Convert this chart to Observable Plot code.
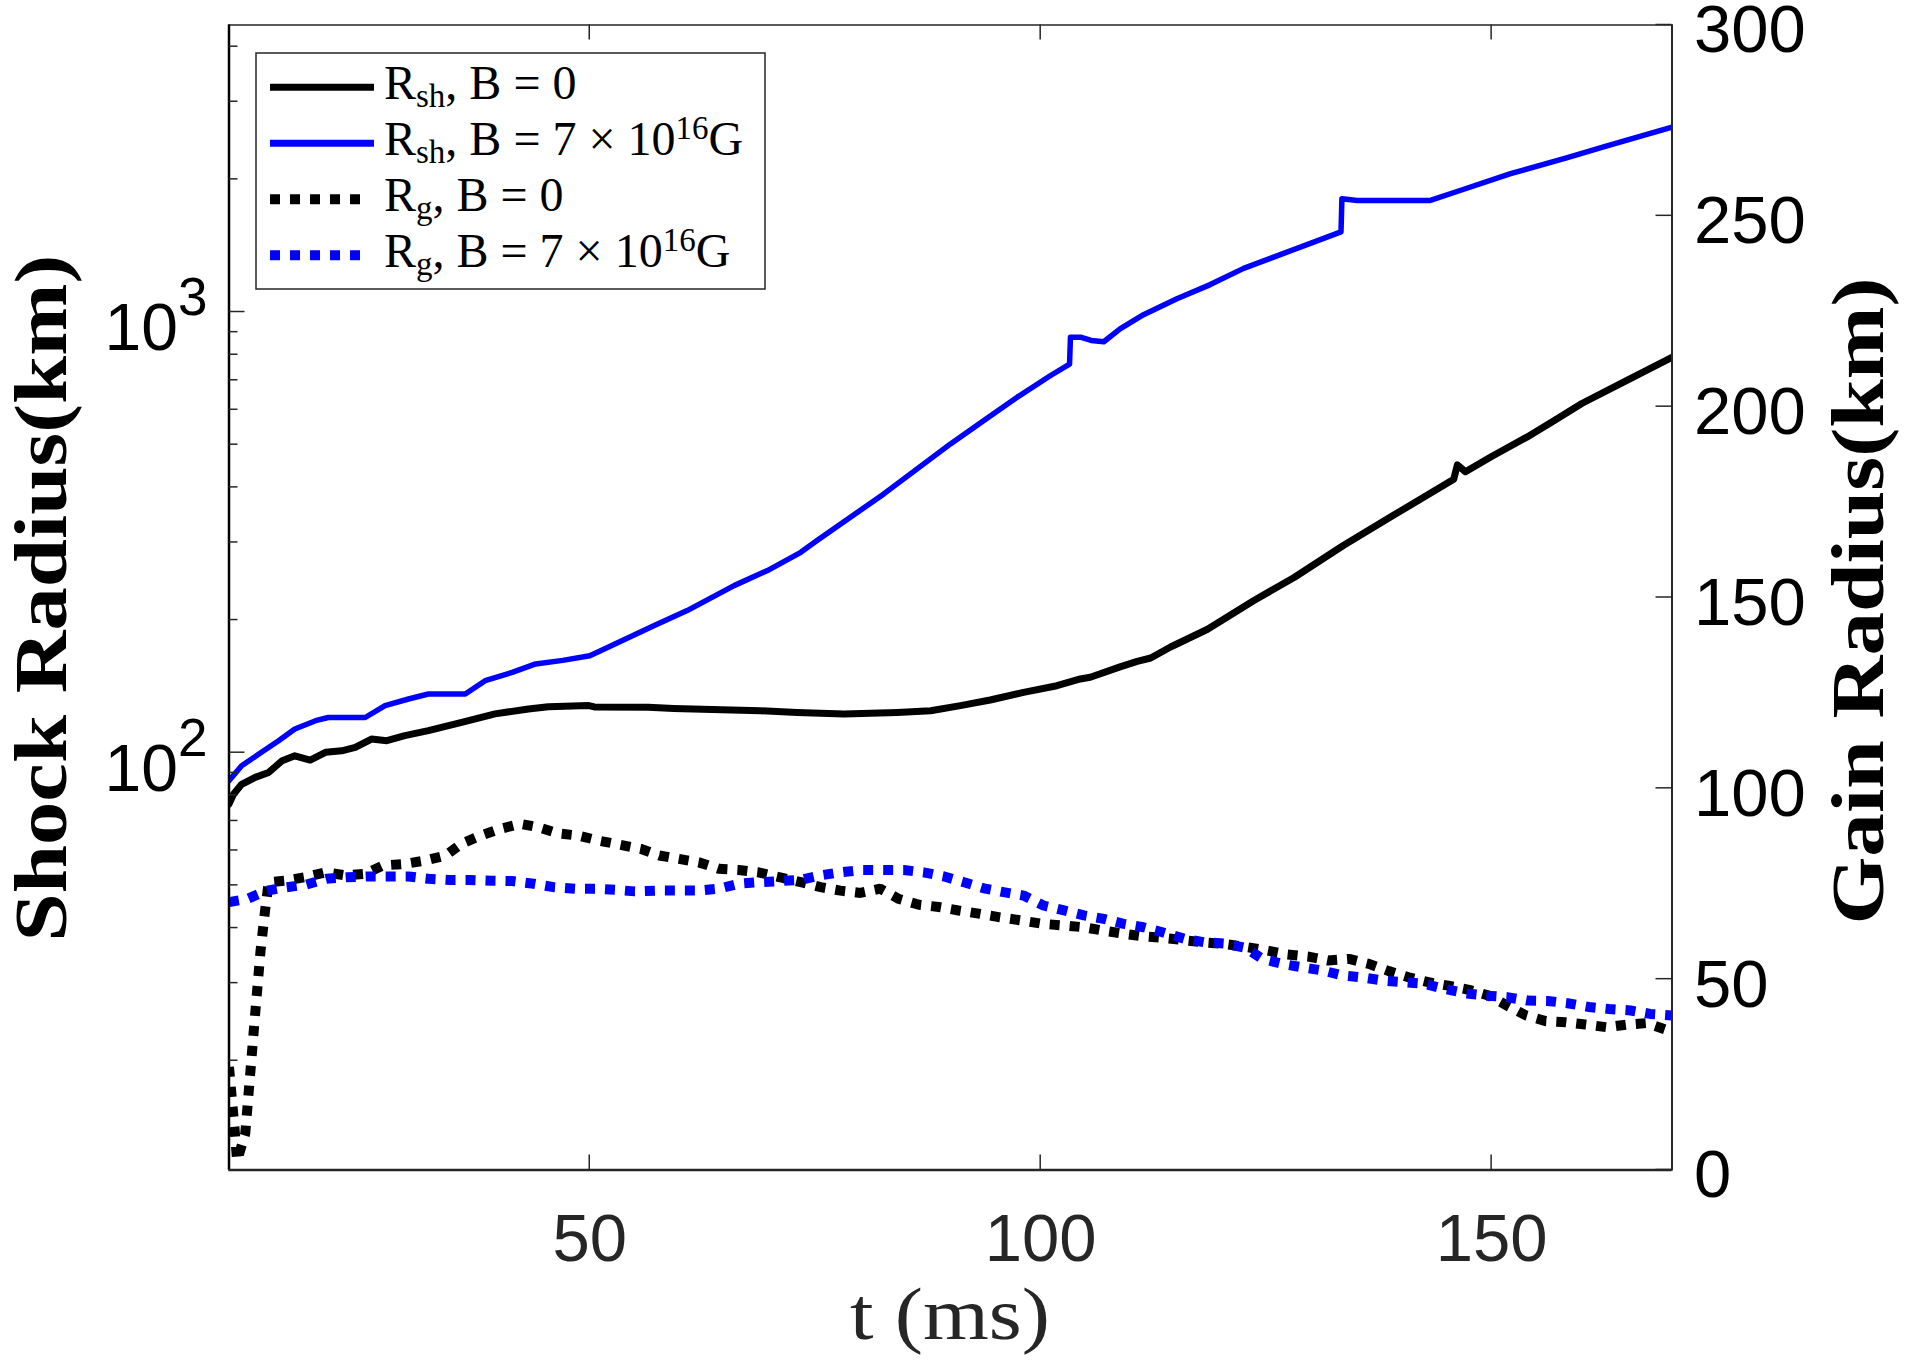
<!DOCTYPE html>
<html><head><meta charset="utf-8">
<script src="https://cdn.jsdelivr.net/npm/d3@7"></script>
<script src="https://cdn.jsdelivr.net/npm/@observablehq/plot@0.6"></script>
<style>
html,body{margin:0;padding:0;background:#fff;overflow:hidden}
#wrap{position:relative;width:1906px;height:1362px}
#wrap svg{position:absolute;left:0;top:0}
</style></head><body><div id="wrap"></div>
<script>
// ---------- data ----------
const xDomain = [10, 170];
const leftDomain = [11.3, 4480];
const rightDomain = [0, 300];
const xTicks = [50, 100, 150];
const rightTicks = [0, 50, 100, 150, 200, 250, 300];
const leftMajor = [100, 1000];
const leftExp = ["2", "3"];
const leftMinor = [20,30,40,50,60,70,80,90,200,300,400,500,600,700,800,900,2000,3000,4000];

// Shock radius, B = 0 (km, left log axis)
const tRsh0 = [10,10.5,11.4,12.9,14.4,15.9,17.3,19.0,20.7,22.5,24.0,25.8,27.5,29.5,32.1,35.8,39.5,43.2,45.4,49.9,50.5,56.5,59.3,68.9,73.0,78.2,84.1,87.8,91.1,94.4,98.1,101.8,104.4,105.5,108.8,110.7,112.2,114.4,118.5,123.6,128.1,133.6,139.2,145.8,146.2,147.1,150.0,153.9,157.0,160.0,165.0,170];
const rsh0 = [76.5,80.5,84.8,87.9,90.2,95.9,98.4,96.2,100.2,101,102.8,107.4,106.5,109.3,112.2,117.2,122.5,125.7,127.2,127.9,127,126.8,126,124.5,123.4,122.4,123.4,124.5,127.9,131.7,137.1,141.9,147,148.3,156.6,161.2,164,173.7,190.6,221.3,249.8,295.7,346.5,417.6,450,434,470,520,568,620,700,789];

// Shock radius, B = 7e16 G
const tRsh7 = [10,11.4,13.6,15.5,17.3,19.6,21.0,25.1,27.3,29.9,32.1,36.2,38.4,41.4,44.0,47.0,50.0,51.2,57.1,60.8,66.0,69.7,73.4,75.2,78.9,82.6,86.3,90.0,93.7,97.4,101.1,103.2,103.3,104.5,105.6,107.0,108.8,111.4,115.1,118.8,122.5,126.2,129.9,133.3,133.4,135.1,143.2,146.5,152.1,158.4,162.6,170];
const rsh7 = [86.4,93.4,100.2,106.4,113.2,118.2,120.2,120.2,127.9,132.4,135.9,135.9,145.7,152.1,159,162,166,170.4,194.2,210.1,239.4,259,284.9,302.9,342.1,386.6,440.6,502,567,641,717.6,762,876,876,862,856,916,986,1072,1154,1256,1341,1431,1520,1808,1791,1791,1887,2061,2240,2377,2628];

// Gain radius, B = 0 (km, right linear axis)
const tRg0 = [10,10.6,10.9,11.8,12.35,12.9,13.5,14.0,14.4,16.2,18.4,20.7,22.9,25.1,27.1,29.5,31.8,34.0,35.8,37.9,40.1,42.3,44.3,46.5,48.8,51.0,53.4,55.7,57.7,59.9,62.1,64.3,66.5,68.7,71.1,73.4,75.6,77.8,80.0,82.2,84.3,86.5,88.7,90.9,93.3,95.5,97.8,100.2,102.4,104.8,107.0,109.2,111.4,113.6,116.0,118.2,120.5,122.8,125.1,127.3,129.7,131.9,134.2,136.4,138.6,140.8,143.0,145.2,147.5,149.7,151.7,153.8,156.0,158.2,160.4,162.8,165.0,167.2,169.4,170];
const rg0 = [27,11.2,2.5,9.5,25.2,40.9,57.5,68,75.4,75.8,76.7,78,77.2,77.6,79.8,80.2,81.1,82.4,85.5,87.6,89.4,90.7,89.8,88.2,87.6,86.3,85.2,84.1,82.4,81.5,80.6,78.9,78.6,78.0,76.7,75.4,74.1,73.2,72.6,73.7,71.0,69.5,68.9,68.0,67.1,66.2,65.4,64.5,64.1,63.6,62.7,61.9,61.2,60.8,60.2,59.6,59.2,58.4,57.5,56.5,55.9,54.9,55.3,54.0,52.1,50.5,49.2,48.3,47.2,45.7,43.1,40.5,39.0,38.7,38.1,37.4,38.1,38.5,36.7,36.0];

// Gain radius, B = 7e16 G
const tRg7 = [10,12,14.2,16.4,18.6,20.8,23.1,25.3,27.7,29.9,32.1,34.5,36.7,39.1,41.4,43.8,46.0,48.4,50.6,52.8,55.0,57.7,59.9,62.1,64.3,66.5,68.7,71.1,73.4,75.6,77.8,80.2,82.6,84.8,87.0,89.3,91.5,93.7,95.9,98.1,100.3,102.6,104.8,107.0,109.2,111.4,113.5,115.9,118.1,120.5,122.7,124.6,126.8,129.0,131.2,133.4,135.6,138.0,140.3,142.5,144.7,147.1,149.3,151.7,153.9,156.2,158.4,160.8,163.0,165.4,167.6,170];
const rg7 = [70.2,71.0,73.2,74.1,74.8,76.3,76.7,76.9,76.9,76.9,76.3,76.0,76.0,75.8,75.7,75.0,74.1,73.7,73.7,73.4,73.0,73.2,73.2,73.2,73.7,75.0,75.4,75.7,76.0,77.2,78.0,78.6,78.6,78.6,78.0,76.9,75.4,73.8,72.8,71.9,69.3,68.0,66.7,65.8,64.5,63.6,62.3,60.6,59.7,59.3,58.2,55.3,54.0,53.1,52.3,51.0,50.5,49.6,49.2,48.8,47.5,46.3,45.7,45.3,44.4,44.3,43.7,42.7,42.2,41.8,40.9,40.5];

// legend
const legendSub = ["sh", "sh", "g", "g"];
const legendRest = [", B = 0", ", B = 7 \u00d7 10", ", B = 0", ", B = 7 \u00d7 10"];
const legendSup = ["", "16", "", "16"];
const legendTail = ["", "G", "", "G"];
const legendColor = ["#000", "#0000ff", "#000", "#0000ff"];
const legendDotted = [false, false, true, true];

// ---------- layout ----------
const W = 1906, H = 1362;
const mL = 228.5, mR = 234.5, mT = 24.5, mB = 192.5;
const sans = "'Liberation Sans', Arial, Helvetica, sans-serif";
const serif = "'Liberation Serif', 'Times New Roman', serif";
const rows = (ts, vs) => ts.map((t, i) => ({t, v: vs[i]}));
const common = {width: W, height: H, marginLeft: mL, marginRight: mR, marginTop: mT, marginBottom: mB};

const p1 = Plot.plot({
  ...common,
  style: {background: "white", fontFamily: sans},
  x: {domain: xDomain, axis: null},
  y: {type: "log", domain: leftDomain, axis: null},
  marks: [
    Plot.axisX({anchor: "bottom", ticks: xTicks, tickSize: 0, tickPadding: 43, fontSize: 67, label: null, color: "#262626"}),
    Plot.lineY(rows(tRsh0, rsh0), {x: "t", y: "v", stroke: "#000", strokeWidth: 7, strokeLinejoin: "round", clip: true}),
    Plot.lineY(rows(tRsh7, rsh7), {x: "t", y: "v", stroke: "#0000ff", strokeWidth: 5.5, strokeLinejoin: "round", clip: true})
  ]
});

const dotted = {x: "t", y: "v", strokeWidth: 10, strokeDasharray: "10,10", strokeLinecap: "butt", strokeLinejoin: "miter", clip: true};
const p2 = Plot.plot({
  ...common,
  style: {background: "transparent", fontFamily: sans},
  x: {domain: xDomain, axis: null},
  y: {domain: rightDomain, axis: null},
  marks: [
    Plot.lineY(rows(tRg0, rg0), {...dotted, stroke: "#000"}),
    Plot.lineY(rows(tRg7, rg7), {...dotted, stroke: "#0000ff"}),
    Plot.axisY({anchor: "right", ticks: rightTicks, tickSize: 0, tickPadding: 22, dy: 6, fontSize: 67, label: null, color: "#000"}),
    Plot.frame({stroke: "#262626", strokeWidth: 1.5}),
    Plot.ruleX([xDomain[0]], {stroke: "#000", strokeWidth: 2.5}),
    Plot.ruleX([xDomain[1]], {stroke: "#262626", strokeWidth: 2}),
    Plot.ruleY([rightDomain[0]], {stroke: "#262626", strokeWidth: 2.5})
  ]
});

const wrap = document.getElementById("wrap");
wrap.append(p1, p2);

// ---------- ticks (inward, MATLAB style) via the plots' scales ----------
const xs = p1.scale("x"), ys1 = p1.scale("y"), ys2 = p2.scale("y");
const tg = d3.select(p2).append("g").attr("stroke", "#262626").attr("stroke-width", 1.5);
leftMajor.forEach(v => { const y = ys1.apply(v); tg.append("line").attr("x1", mL).attr("x2", mL + 16).attr("y1", y).attr("y2", y); });
leftMinor.forEach(v => { const y = ys1.apply(v); tg.append("line").attr("x1", mL).attr("x2", mL + 9).attr("y1", y).attr("y2", y); });
xTicks.forEach(v => {
  const x = xs.apply(v);
  tg.append("line").attr("x1", x).attr("x2", x).attr("y1", H - mB).attr("y2", H - mB - 15);
  tg.append("line").attr("x1", x).attr("x2", x).attr("y1", mT).attr("y2", mT + 15);
});
rightTicks.forEach(v => { const y = ys2.apply(v); tg.append("line").attr("x1", W - mR).attr("x2", W - mR - 16).attr("y1", y).attr("y2", y); });

// ---------- left tick labels 10^n ----------
const lab = d3.select(p2).append("g").attr("font-family", sans).attr("fill", "#000");
leftMajor.forEach((v, i) => {
  const y = ys1.apply(v);
  const t = lab.append("text").attr("x", mL - 21).attr("y", y + 38.5).attr("text-anchor", "end").attr("font-size", 66);
  t.append("tspan").text("10");
  t.append("tspan").attr("font-size", 53).attr("dy", -35).text(leftExp[i]);
});

// ---------- axis titles ----------
const ttl = d3.select(p2).append("g").attr("font-family", serif).attr("fill", "#000");
ttl.append("text").attr("transform", "translate(66,598) rotate(-90)").attr("text-anchor", "middle")
  .attr("font-size", 74).attr("font-weight", "bold").attr("textLength", 687).attr("lengthAdjust", "spacingAndGlyphs")
  .text("Shock Radius(km)");
ttl.append("text").attr("transform", "translate(1883,601) rotate(-90)").attr("text-anchor", "middle")
  .attr("font-size", 74).attr("font-weight", "bold").attr("textLength", 647).attr("lengthAdjust", "spacingAndGlyphs")
  .text("Gain Radius(km)");
ttl.append("text").attr("x", 950).attr("y", 1339).attr("text-anchor", "middle")
  .attr("font-size", 74).attr("fill", "#262626").attr("textLength", 200).attr("lengthAdjust", "spacingAndGlyphs")
  .text("t (ms)");

// ---------- legend ----------
const lg = d3.select(p2).append("g").attr("text-anchor", "start");
lg.append("rect").attr("x", 256).attr("y", 53).attr("width", 509).attr("height", 236)
  .attr("fill", "white").attr("stroke", "#262626").attr("stroke-width", 1.5);
legendSub.forEach((s, i) => {
  const yl = 87.3 + 56 * i, yb = 99 + 56 * i;
  lg.append("line").attr("x1", 270).attr("x2", legendDotted[i] ? 363 : 374).attr("y1", yl).attr("y2", yl)
    .attr("stroke", legendColor[i]).attr("stroke-width", legendDotted[i] ? 10 : 7)
    .attr("stroke-dasharray", legendDotted[i] ? "10,10" : null);
  const t = lg.append("text").attr("x", 384).attr("y", yb).attr("text-anchor", "start")
    .attr("font-family", serif).attr("font-size", 48).attr("fill", "#000");
  t.append("tspan").text("R");
  t.append("tspan").attr("font-size", 33).attr("dy", 8).text(s);
  t.append("tspan").attr("dy", -8).text(legendRest[i]);
  if (legendSup[i]) {
    t.append("tspan").attr("font-size", 33).attr("dy", -16).text(legendSup[i]);
    t.append("tspan").attr("dy", 16).text(legendTail[i]);
  }
});
</script>
</body></html>
